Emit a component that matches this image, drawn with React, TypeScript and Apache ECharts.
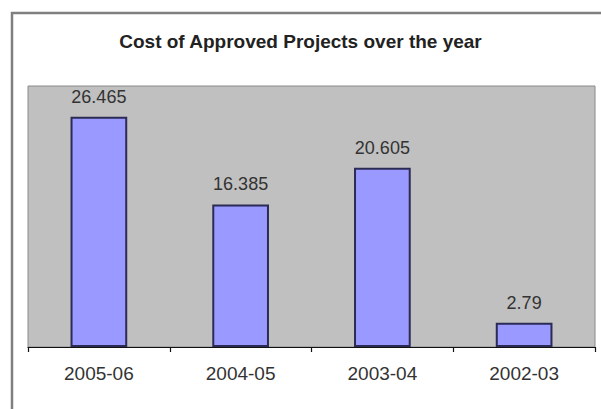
import React, { useEffect, useRef } from "react";
import * as echarts from "echarts";

const categories: string[] = ["2005-06", "2004-05", "2003-04", "2002-03"];
const costs: number[] = [26.465, 16.385, 20.605, 2.79];
const titleText = "Cost of Approved Projects over the year";
const yMin = 0;
const yMax = 30;

export default function App() {
  const ref = useRef<HTMLDivElement>(null);
  useEffect(() => {
    if (!ref.current) return;
    const chart = echarts.init(ref.current, null, { renderer: "svg" });
    chart.setOption({
      animation: false,
      backgroundColor: "#ffffff",
      title: {
        text: titleText,
        left: "center",
        top: 27,
        textStyle: {
          fontFamily: "Liberation Sans, Arial, sans-serif",
          fontSize: 19,
          fontWeight: "bold",
          color: "#222222",
        },
      },
      graphic: [
        {
          type: "rect",
          shape: { x: 12, y: 13, width: 700, height: 500 },
          style: { fill: "none", stroke: "#7f7f7f", lineWidth: 2.5 },
          silent: true,
          z: 100,
        },
      ],
      grid: {
        left: 28,
        right: 6,
        top: 86,
        bottom: 62,
        show: true,
        backgroundColor: "#c0c0c0",
        borderColor: "#8a8a8a",
        borderWidth: 1,
      },
      xAxis: {
        type: "category",
        data: categories,
        axisLine: { show: true, lineStyle: { color: "#111111", width: 1.2 } },
        axisTick: { show: true, length: 5, lineStyle: { color: "#111111", width: 1.2 } },
        axisLabel: {
          margin: 17,
          fontFamily: "Liberation Sans, Arial, sans-serif",
          fontSize: 19,
          color: "#333333",
        },
      },
      yAxis: {
        type: "value",
        min: yMin,
        max: yMax,
        show: false,
        splitLine: { show: false },
      },
      series: [
        {
          type: "bar",
          data: costs,
          barWidth: "40%",
          itemStyle: {
            color: "#9999ff",
            borderColor: "#2b2b55",
            borderWidth: 2,
          },
          label: {
            show: true,
            position: "top",
            distance: 11,
            fontFamily: "Liberation Sans, Arial, sans-serif",
            fontSize: 18,
            color: "#333333",
          },
        },
      ],
    });
    return () => chart.dispose();
  }, []);
  return (
    <div
      ref={ref}
      style={{ position: "absolute", left: 0, top: 0, width: 601, height: 409 }}
    />
  );
}
